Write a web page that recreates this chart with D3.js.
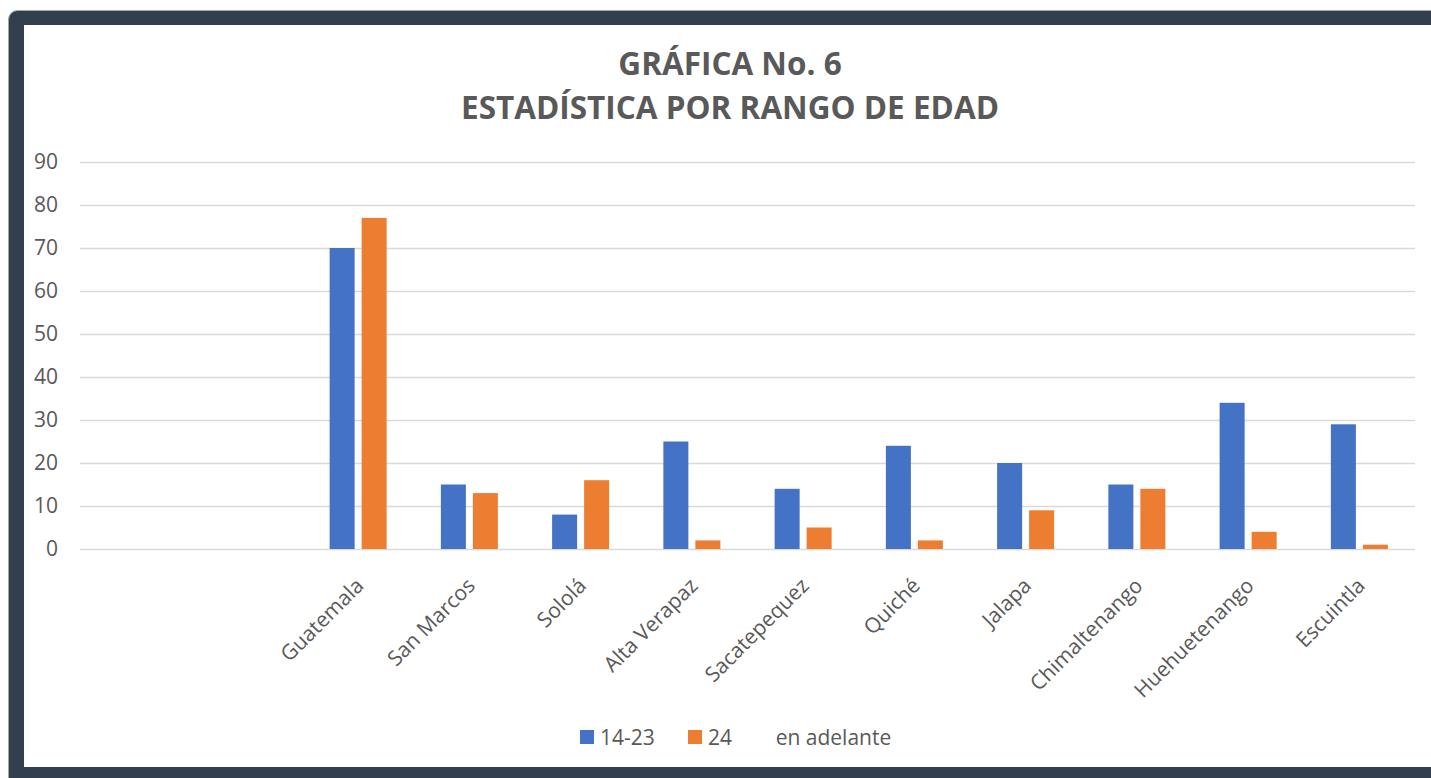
<!DOCTYPE html>
<html>
<head>
<meta charset="utf-8">
<script src="https://cdn.jsdelivr.net/npm/d3@7"></script>
<style>
  body { margin: 0; background: #fff; }
  text { font-family: "Open Sans", sans-serif; }
</style>
</head>
<body>
<div id="chart"></div>
<script>
// data; the first two categories are empty in the original
var categories = ["", "", "Guatemala", "San Marcos", "Sololá", "Alta Verapaz", "Sacatepequez",
  "Quiché", "Jalapa", "Chimaltenango", "Huehuetenango", "Escuintla"];
var joven = [null, null, 70, 15, 8, 25, 14, 24, 20, 15, 34, 29];
var adulto = [null, null, 77, 13, 16, 2, 5, 2, 9, 14, 4, 1];
var seriesNames = ["14-23", "24        en adelante"];
var yTicks = [0, 10, 20, 30, 40, 50, 60, 70, 80, 90];
var titleLines = ["GRÁFICA No. 6", "ESTADÍSTICA POR RANGO DE EDAD"];

var width = 1431;
var height = 778;
var colors = ["#4472c4", "#ed7d31"];
var textColor = "#595959";

var svg = d3.select("#chart")
  .append("svg")
  .attr("width", width)
  .attr("height", height);

// dark frame round the chart area
svg.append("rect")
  .attr("x", 8.5).attr("y", 10.5)
  .attr("width", 1450).attr("height", 800)
  .attr("rx", 9)
  .attr("fill", "#323f4f")
  .attr("stroke", "#a6a6a6");
svg.append("rect")
  .attr("x", 24).attr("y", 25)
  .attr("width", 1450).attr("height", 742)
  .attr("fill", "#fff");

// title
svg.append("g").selectAll("text")
  .data(titleLines)
  .enter()
  .append("text")
  .attr("x", 730)
  .attr("y", function(d, i) { return 75 + i * 44; })
  .attr("text-anchor", "middle")
  .attr("font-size", 31.5)
  .attr("font-weight", "bold")
  .attr("fill", textColor)
  .text(function(d) { return d; });

var margin = {left: 80, right: 16, top: 162, bottom: 229};
var plotW = width - margin.left - margin.right;

var x = d3.scaleBand()
  .domain(d3.range(categories.length))
  .range([margin.left, margin.left + plotW])
  .paddingInner(0.4876)
  .paddingOuter(0.2438);

var xSub = d3.scaleBand()
  .domain([0, 1])
  .range([0, x.bandwidth()])
  .paddingInner(0.21875);

var y = d3.scaleLinear()
  .domain([0, 90])
  .range([549, 162]);

// gridlines
var grid = svg.append("g")
  .attr("transform", "translate(" + margin.left + ",0)")
  .call(d3.axisLeft(y).tickValues(yTicks).tickSize(-plotW).tickFormat(""));
grid.select(".domain").remove();
grid.selectAll(".tick line").attr("stroke", "#d9d9d9").attr("stroke-width", 1.4);

// y labels
var yAxis = svg.append("g")
  .attr("transform", "translate(58,0)")
  .call(d3.axisLeft(y).tickValues(yTicks).tickSize(0).tickPadding(0));
yAxis.select(".domain").remove();
yAxis.selectAll("text")
  .attr("font-size", 21)
  .attr("fill", textColor)
  .style("font-family", "'Open Sans', sans-serif");

// bars
var rows = categories.map(function(c, i) {
  return {i: i, values: [joven[i], adulto[i]]};
});

var groups = svg.append("g").selectAll("g")
  .data(rows)
  .enter()
  .append("g")
  .attr("transform", function(d) { return "translate(" + x(d.i) + ",0)"; });

groups.selectAll("rect")
  .data(function(d) {
    return d.values.map(function(v, k) { return {k: k, v: v}; })
      .filter(function(e) { return e.v != null; });
  })
  .enter()
  .append("rect")
  .attr("x", function(d) { return xSub(d.k); })
  .attr("y", function(d) { return y(d.v); })
  .attr("width", xSub.bandwidth())
  .attr("height", function(d) { return y(0) - y(d.v); })
  .attr("fill", function(d) { return colors[d.k]; });

// category labels, rotated
var xAxis = svg.append("g")
  .attr("transform", "translate(0,549)")
  .call(d3.axisBottom(x).tickSize(0).tickFormat(function(i) { return categories[i]; }));
xAxis.select(".domain").remove();
xAxis.selectAll("text")
  .attr("font-size", 21)
  .attr("fill", textColor)
  .style("font-family", "'Open Sans', sans-serif")
  .attr("text-anchor", "end")
  .attr("y", 0)
  .attr("dy", 0)
  .attr("transform", "translate(7,38) rotate(-45)");

// legend
var legendX = [580, 688];
var legend = svg.append("g").selectAll("g")
  .data(seriesNames)
  .enter()
  .append("g")
  .attr("transform", function(d, i) { return "translate(" + legendX[i] + ",730)"; });
legend.append("rect")
  .attr("width", 14).attr("height", 14)
  .attr("fill", function(d, i) { return colors[i]; });
legend.append("text")
  .attr("x", 20).attr("y", 15)
  .attr("font-size", 21)
  .attr("fill", textColor)
  .style("white-space", "pre")
  .text(function(d) { return d; });
</script>
</body>
</html>
